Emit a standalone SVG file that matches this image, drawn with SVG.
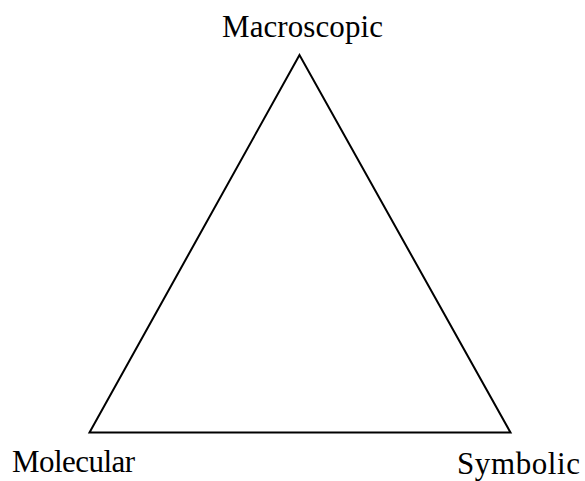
<svg xmlns="http://www.w3.org/2000/svg" width="585" height="481" viewBox="0 0 585 481">
<style>
text { font-family: "Liberation Serif", "Times New Roman", serif; font-size: 31px; fill: #000; }
.edge { stroke: #000; stroke-width: 2; fill: none; stroke-linejoin: miter; }
</style>
<rect width="585" height="481" fill="#fff"/>
<g id="connectors">
<path class="edge" d="M299.5 55 L89.5 432.5 L510.5 432.5 Z"/>
</g>
<g id="macroscopic"><text x="222" y="37" textLength="161">Macroscopic</text></g>
<g id="molecular"><text x="12" y="472" textLength="123">Molecular</text></g>
<g id="symbolic"><text x="457" y="473.5" textLength="123">Symbolic</text></g>
</svg>
